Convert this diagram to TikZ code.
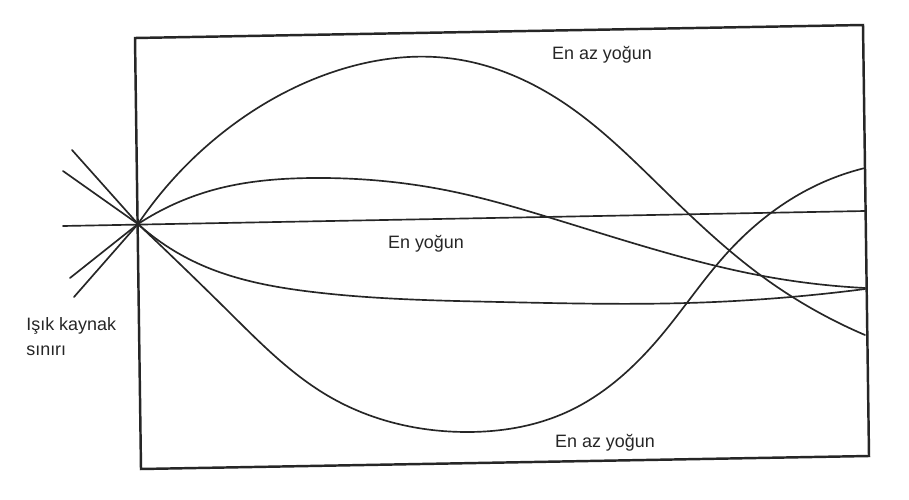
\documentclass[tikz,border=0pt]{standalone}
\usepackage{fontspec}
\setmainfont{Liberation Sans}
\usetikzlibrary{hobby}
\begin{document}
\begin{tikzpicture}[x=0.02cm,y=-0.02cm,
  curve/.style={line width=0.95pt, draw=black!85, line cap=round, use Hobby shortcut},
  frame/.style={line width=1.4pt, draw=black!85, line join=miter},
  lbl/.style={font=\fontsize{10.2}{14.2}\selectfont, text=black!85, inner sep=0pt}]
\useasboundingbox (0,0) rectangle (909,500);
\fill[white] (0,0) rectangle (909,500);
% frame
\coordinate (TL) at (135,38);
\coordinate (TR) at (863,25);
\coordinate (BR) at (869,456);
\coordinate (BL) at (141,469);
\draw[frame] (TL) -- (TR) -- (BR) -- (BL) -- cycle;
% source point
\coordinate (S) at (138,224);
% horizontal ray
\coordinate (hL) at (63,226);
\coordinate (hR) at (865,211);
\draw[curve] (hL) -- (hR);
% stubs left of the source boundary
\coordinate (s1) at (72,150);
\coordinate (s2) at (63,171);
\coordinate (s3) at (70,278);
\coordinate (s4) at (74,297);
\draw[curve] (s1) -- (S);
\draw[curve] (s2) -- (S);
\draw[curve] (s3) -- (S);
\draw[curve] (s4) -- (S);
% upper big curve
\draw[curve] (S) .. (230,127) .. (330,73) .. (455,59) .. (567,105) .. (667,193) .. (763,277) .. (865,335);
% middle upper curve
\draw[curve] (S) .. (213,190) .. (313,178) .. (450,191) .. (551,218) .. (667,253) .. (763,276) .. (865,288);
% lower middle curve
\draw[curve] (S) .. (197,263) .. (313,292) .. (500,302) .. (687,303) .. (865,289);
% lower big curve
\draw[curve] (S) .. (230,313) .. (330,397) .. (467,432) .. (567,412) .. (660,337) .. (728,252) .. (817,185) .. (865,168);
% labels
\node[lbl, anchor=base] (top) at (602,60) {En az yoğun};
\node[lbl, anchor=base] (mid) at (426,248) {En yoğun};
\node[lbl, anchor=base] (bot) at (605,447) {En az yoğun};
\node[lbl, anchor=base west] (src1) at (26,330) {Işık kaynak};
\node[lbl, anchor=base west] (src2) at (26,355) {sınırı};
\end{tikzpicture}
\end{document}
